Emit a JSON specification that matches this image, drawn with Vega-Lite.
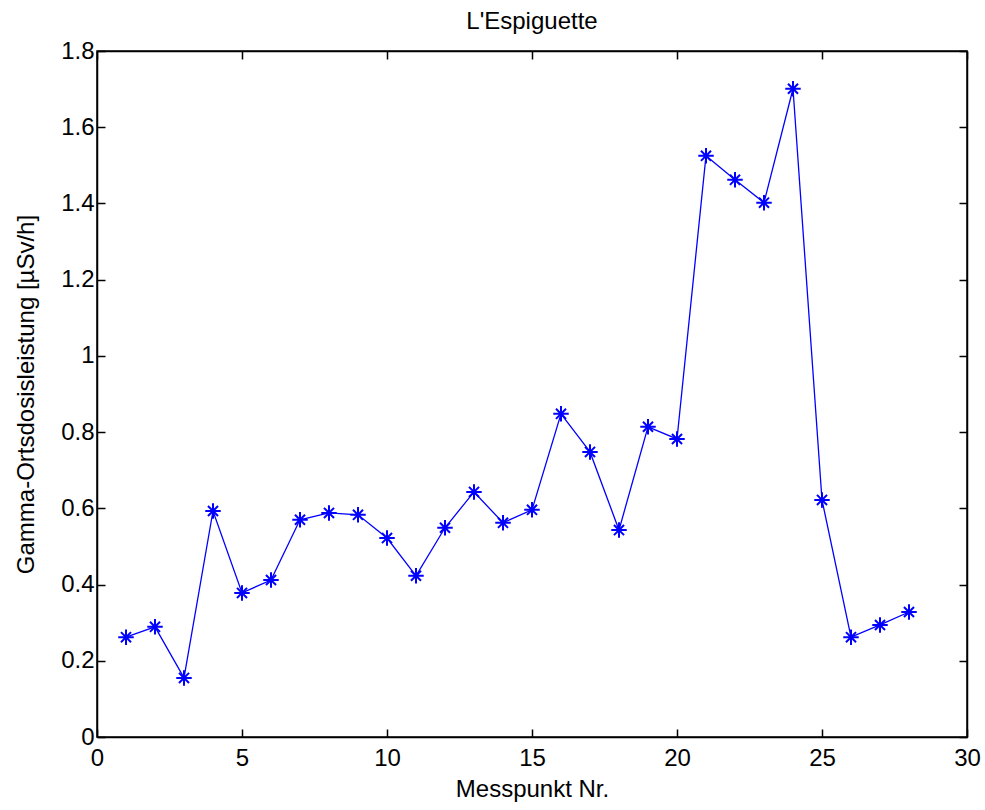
{
  "$schema": "https://vega.github.io/schema/vega-lite/v6.json",
  "width": 870,
  "height": 686,
  "autosize": {"type": "none"},
  "padding": {"left": 97, "top": 51, "right": 18, "bottom": 73},
  "background": "white",
  "title": {"text": "L'Espiguette", "font": "Liberation Sans", "fontSize": 24, "fontWeight": "normal", "color": "#000000", "offset": 5},
  "config": {
    "view": {"stroke": "#000000", "strokeWidth": 1.5},
    "axis": {"grid": false, "labelFlush": false, "domainColor": "#000000", "domainWidth": 1.5, "tickColor": "#000000", "tickWidth": 1.5, "tickSize": -8, "labelFont": "Liberation Sans", "labelFontSize": 24, "labelColor": "#000000", "titleFont": "Liberation Sans", "titleFontSize": 24, "titleFontWeight": "normal", "titleColor": "#000000"}
  },
  "data": {"values": [
    {"nr": 1, "dose": 0.262},
    {"nr": 2, "dose": 0.289},
    {"nr": 3, "dose": 0.155},
    {"nr": 4, "dose": 0.593},
    {"nr": 5, "dose": 0.378},
    {"nr": 6, "dose": 0.412},
    {"nr": 7, "dose": 0.570},
    {"nr": 8, "dose": 0.588},
    {"nr": 9, "dose": 0.583},
    {"nr": 10, "dose": 0.522},
    {"nr": 11, "dose": 0.423},
    {"nr": 12, "dose": 0.549},
    {"nr": 13, "dose": 0.643},
    {"nr": 14, "dose": 0.562},
    {"nr": 15, "dose": 0.596},
    {"nr": 16, "dose": 0.848},
    {"nr": 17, "dose": 0.748},
    {"nr": 18, "dose": 0.543},
    {"nr": 19, "dose": 0.814},
    {"nr": 20, "dose": 0.782},
    {"nr": 21, "dose": 1.525},
    {"nr": 22, "dose": 1.462},
    {"nr": 23, "dose": 1.402},
    {"nr": 24, "dose": 1.701},
    {"nr": 25, "dose": 0.622},
    {"nr": 26, "dose": 0.262},
    {"nr": 27, "dose": 0.294},
    {"nr": 28, "dose": 0.328}
  ]},
  "layer": [
    {
      "mark": {"type": "line", "color": "#0000FF", "strokeWidth": 1.3},
      "encoding": {
        "x": {"field": "nr", "type": "quantitative", "scale": {"domain": [0, 30], "nice": false}, "axis": {"orient": "bottom", "values": [0, 5, 10, 15, 20, 25, 30], "title": "Messpunkt Nr.", "labelPadding": 17, "titlePadding": 7}},
        "y": {"field": "dose", "type": "quantitative", "scale": {"domain": [0, 1.8], "nice": false}, "axis": {"orient": "left", "values": [0, 0.2, 0.4, 0.6, 0.8, 1, 1.2, 1.4, 1.6, 1.8], "format": "~g", "title": "Gamma-Ortsdosisleistung [µSv/h]", "labelPadding": 11, "titlePadding": 22}}
      }
    },
    {
      "mark": {"type": "point", "shape": "M-1,0L1,0M0,-1L0,1M-0.65,-0.65L0.65,0.65M-0.65,0.65L0.65,-0.65", "filled": false, "stroke": "#0000FF", "strokeWidth": 2, "size": 240, "opacity": 1},
      "encoding": {
        "x": {"field": "nr", "type": "quantitative", "axis": {"orient": "top", "values": [0, 5, 10, 15, 20, 25, 30], "labels": false, "title": null}},
        "y": {"field": "dose", "type": "quantitative", "axis": {"orient": "right", "values": [0, 0.2, 0.4, 0.6, 0.8, 1, 1.2, 1.4, 1.6, 1.8], "labels": false, "title": null}}
      }
    }
  ],
  "resolve": {"axis": {"x": "independent", "y": "independent"}}
}
